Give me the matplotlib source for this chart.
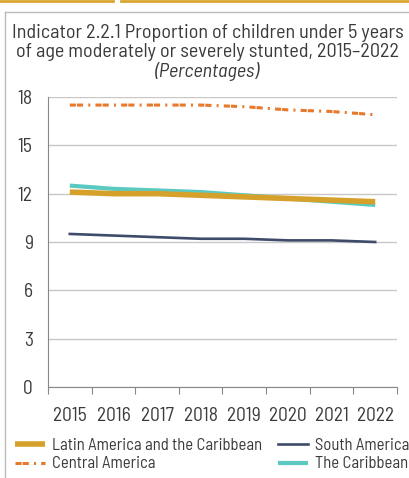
import matplotlib
matplotlib.use('Agg')
import matplotlib.pyplot as plt
from matplotlib.lines import Line2D
from matplotlib import font_manager

# Data
years = ['2015', '2016', '2017', '2018', '2019', '2020', '2021', '2022']
lac = [12.1, 12.0, 12.0, 11.9, 11.8, 11.7, 11.6, 11.5]
central = [17.5, 17.5, 17.5, 17.5, 17.4, 17.2, 17.1, 16.9]
south = [9.5, 9.4, 9.3, 9.2, 9.2, 9.1, 9.1, 9.0]
caribbean = [12.5, 12.3, 12.2, 12.1, 11.9, 11.7, 11.5, 11.3]
y_ticks = [0, 3, 6, 9, 12, 15, 18]

names = {f.name for f in font_manager.fontManager.ttflist}
font = next((f for f in ['Barlow Semi Condensed', 'Roboto Condensed', 'Roboto'] if f in names), 'DejaVu Sans')
plt.rcParams['font.family'] = [font, 'DejaVu Sans']

W, H = 410, 478
fig = plt.figure(figsize=(W / 100, H / 100), dpi=100)
txt_color = '#3a3a3a'

# Frame decoration
fig.add_artist(Line2D([0, 113 / W], [1 - 1 / H, 1 - 1 / H], color='#D9A62E', lw=2))
fig.add_artist(Line2D([121 / W, 1], [1 - 1 / H, 1 - 1 / H], color='#D9A62E', lw=2))
fig.add_artist(Line2D([5 / W, 1], [1 - 11.5 / H, 1 - 11.5 / H], color='#BBBBBB', lw=1))
fig.add_artist(Line2D([5.5 / W, 5.5 / W], [0, 1 - 11.5 / H], color='#BBBBBB', lw=1))

fig.text(208 / W, 1 - 38 / H, 'Indicator 2.2.1 Proportion of children under 5 years',
         ha='center', va='baseline', fontsize=14.5, color=txt_color)
fig.text(208 / W, 1 - 57 / H, 'of age moderately or severely stunted, 2015\u20132022',
         ha='center', va='baseline', fontsize=14.5, color=txt_color)
fig.text(207 / W, 1 - 77 / H, '(Percentages)', ha='center', va='baseline',
         fontsize=14.5, style='italic', color=txt_color)

ax = fig.add_axes([48 / W, 1 - 387 / H, (397 - 48) / W, (387 - 97) / H])
x = range(len(years))
l4, = ax.plot(x, caribbean, color='#5CC9C1', lw=3.0, solid_capstyle='butt', zorder=3)
l1, = ax.plot(x, lac, color='#D6A12B', lw=4.0, solid_capstyle='butt', zorder=4)
l2, = ax.plot(x, central, color='#E8792B', lw=2.2, dashes=(2.0, 0.35, 2.0, 1.7, 0.65, 1.7), zorder=3)
l3, = ax.plot(x, south, color='#3F4B6A', lw=1.9, zorder=3)

ax.set_xlim(-0.5, len(years) - 0.5)
ax.set_ylim(0, 18)
ax.set_yticks(y_ticks)
ax.grid(axis='y', color='#C8C8C8', lw=1)
ax.set_axisbelow(True)
for s in ['top', 'right']:
    ax.spines[s].set_visible(False)
for s in ['left', 'bottom']:
    ax.spines[s].set_color('#888888')
ax.tick_params(axis='y', length=0, labelsize=14, colors=txt_color, pad=11)
ax.set_xticks([i - 0.5 for i in range(len(years) + 1)])
ax.set_xticklabels([])
ax.set_xticks(list(x), labels=years, minor=True)
ax.tick_params(axis='x', which='major', length=5, color='#888888')
ax.tick_params(axis='x', which='minor', length=0, labelsize=14, colors=txt_color, pad=14.5)

fig.legend([l1, l2, l3, l4],
           ['Latin America and the Caribbean', 'Central America', 'South America', 'The Caribbean'],
           ncol=2, loc='upper left', bbox_to_anchor=(15 / W, 1 - 438 / H), frameon=False,
           fontsize=12, handlelength=1.8, handletextpad=0.42, columnspacing=0.96,
           labelspacing=0.2, borderpad=0, borderaxespad=0, labelcolor=txt_color)

fig.savefig('out.png', dpi=100)
